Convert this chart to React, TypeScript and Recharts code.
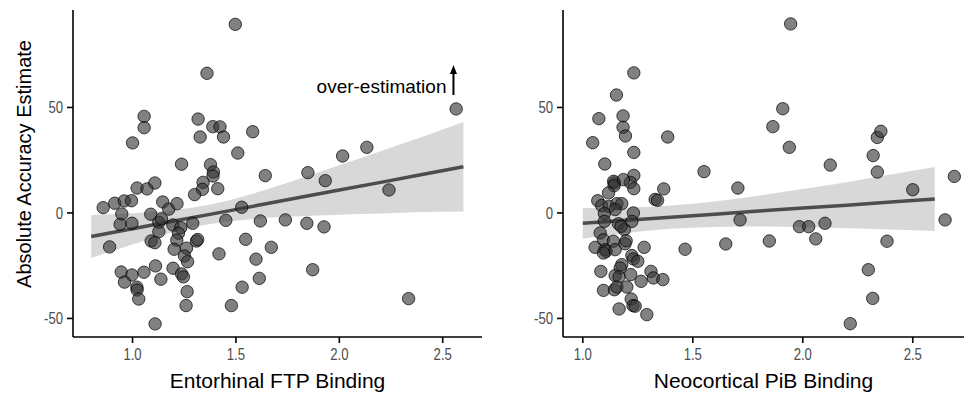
import React from 'react';
import {
  ComposedChart,
  Scatter,
  Line,
  Area,
  XAxis,
  YAxis,
  ReferenceDot,
} from 'recharts';

// Entorhinal FTP panel
const ftpX = [
  1.497, 1.36, 2.565, 1.056, 1.056, 1.0, 1.317, 1.327, 1.388, 1.423, 1.44, 1.581, 1.509, 1.237, 1.377,
  1.391, 1.389, 1.341, 1.338, 1.412, 1.3, 1.642, 1.848, 1.932, 2.016, 2.133, 2.24, 1.022, 1.07, 1.108,
  0.858, 0.914, 0.96, 0.995, 0.948, 0.94, 0.997, 0.889, 1.088, 1.127, 1.127, 1.146, 1.175, 1.215, 1.14,
  1.195, 1.233, 1.222, 1.214, 1.291, 1.309, 1.315, 1.09, 1.108, 1.201, 1.261, 1.251, 1.266, 1.451, 1.528,
  1.618, 1.739, 1.843, 1.926, 1.547, 1.671, 1.418, 1.597, 1.871, 1.613, 1.53, 1.478, 2.335, 0.945, 0.997,
  1.055, 0.961, 1.021, 1.022, 1.03, 1.111, 1.137, 1.196, 1.237, 1.246, 1.264, 1.259, 1.109,
];
const ftpY = [
  89.4, 66.2, 49.3, 45.8, 40.4, 33.2, 44.5, 36.0, 40.9, 40.8, 36.0, 38.5, 28.4, 23.1, 22.9,
  19.4, 17.5, 14.5, 11.2, 11.5, 8.7, 17.7, 19.1, 15.3, 27.0, 31.1, 10.9, 11.8, 11.4, 14.2,
  2.5, 4.6, 5.7, 5.8, -0.5, -5.4, -4.9, -16.1, -0.6, -4.4, -8.9, 5.2, 1.8, 4.4, -2.8,
  -5.7, -7.0, -9.6, -12.9, -4.9, -13.3, -12.6, -13.3, -14.1, -17.2, -16.7, -20.4, -23.1, -3.5, 2.7,
  -3.8, -3.3, -4.9, -6.6, -12.5, -16.3, -19.4, -21.9, -26.9, -31.0, -35.2, -43.9, -40.6, -28.0, -29.4,
  -28.1, -32.8, -35.2, -36.5, -40.8, -25.1, -31.4, -26.2, -28.9, -30.3, -37.3, -43.9, -52.6,
];
const ftpFitX = [0.8, 1.0, 1.2, 1.4, 1.6, 1.8, 2.0, 2.2, 2.4, 2.6];
const ftpFit = [-11.2, -7.5, -3.8, -0.2, 3.5, 7.2, 10.9, 14.5, 18.2, 21.9];
const ftpLo = [-21.4, -14.9, -9.0, -4.9, -2.7, -1.6, -0.8, -0.3, 0.4, 0.7];
const ftpHi = [-1.0, -0.1, 1.4, 4.5, 9.7, 16.0, 22.6, 29.3, 36.0, 43.1];

// Neocortical PiB panel
const pibX = [
  1.945, 1.232, 1.153, 1.073, 1.183, 1.183, 1.194, 1.045, 1.386, 1.232, 1.1, 1.232, 1.216, 1.232, 1.144,
  1.14, 1.142, 1.185, 1.117, 1.368, 1.551, 1.705, 1.909, 1.864, 1.939, 2.125, 2.32, 2.339, 2.355, 2.339,
  2.5, 2.689, 1.329, 1.34, 1.068, 1.086, 1.12, 1.155, 1.177, 1.147, 1.23, 1.098, 1.098, 1.223, 1.162,
  1.189, 1.174, 1.079, 1.094, 1.139, 1.192, 1.197, 1.056, 1.101, 1.106, 1.094, 1.147, 1.279, 1.465, 1.65,
  1.848, 2.059, 2.383, 1.715, 1.985, 2.027, 2.101, 2.647, 1.223, 1.23, 1.25, 1.082, 1.177, 1.17, 1.147,
  1.165, 1.218, 1.265, 1.31, 1.321, 1.364, 1.094, 1.144, 1.155, 1.2, 1.22, 1.228, 1.238, 1.165, 1.291,
  2.298, 2.318, 2.216,
];
const pibY = [
  89.6, 66.4, 55.9, 44.7, 46.0, 40.6, 36.5, 33.3, 36.0, 28.7, 23.2, 17.8, 14.5, 11.5, 14.2,
  15.0, 12.9, 15.8, 9.5, 11.4, 19.6, 11.8, 49.4, 40.9, 31.1, 22.7, 27.2, 35.8, 38.7, 19.4,
  11.0, 17.3, 6.4, 6.0, 5.8, 3.5, 3.1, 4.4, 4.4, 1.6, 0.0, -0.3, -4.0, -4.0, -5.1,
  -7.9, -6.3, -9.5, -12.7, -13.4, -14.6, -13.2, -16.3, -17.4, -18.2, -19.0, -17.4, -16.3, -17.2, -14.7,
  -13.3, -12.3, -13.4, -3.3, -6.5, -6.5, -4.9, -3.3, -20.2, -21.8, -22.9, -27.7, -24.5, -26.1, -29.7,
  -30.3, -29.2, -32.4, -27.7, -30.8, -31.6, -36.7, -36.4, -35.1, -35.1, -40.8, -43.9, -44.2, -45.5, -48.2,
  -26.9, -40.5, -52.5,
];
const pibFitX = [1.0, 1.2, 1.4, 1.6, 1.8, 2.0, 2.2, 2.4, 2.6];
const pibFit = [-4.9, -3.5, -2.0, -0.6, 0.9, 2.3, 3.7, 5.2, 6.6];
const pibLo = [-12.2, -9.5, -7.5, -6.6, -6.4, -6.7, -7.2, -7.8, -8.5];
const pibHi = [2.4, 2.5, 3.5, 5.4, 8.2, 11.3, 14.6, 18.2, 21.8];

const xTicks = [1, 1.5, 2, 2.5];
const yTicks = [-50, 0, 50];

const TITLE_FONT = "'Liberation Sans', Arial, sans-serif";

// tick labels in the original are set in a condensed face
const XTick = (props: any) => {
  const { x, y, payload } = props;
  return (
    <g transform={`translate(${x},${y})`}>
      <text
        transform="scale(0.82,1)"
        textAnchor="middle"
        dy="0.71em"
        fontSize={16}
        fontFamily={TITLE_FONT}
        fill="#4d4d4d"
      >
        {Number(payload.value).toFixed(1)}
      </text>
    </g>
  );
};

const YTick = (props: any) => {
  const { x, y, payload } = props;
  return (
    <g transform={`translate(${x},${y})`}>
      <text
        transform="scale(0.82,1)"
        textAnchor="end"
        dy="0.36em"
        fontSize={16}
        fontFamily={TITLE_FONT}
        fill="#4d4d4d"
      >
        {payload.value}
      </text>
    </g>
  );
};

const Dot = (props: any) => {
  const { cx, cy } = props;
  if (cx == null || cy == null) return null;
  return (
    <circle
      cx={cx}
      cy={cy}
      r={6.2}
      fill="#333"
      fillOpacity={0.62}
      stroke="#000"
      strokeOpacity={0.7}
      strokeWidth={1}
    />
  );
};

const OverEstimation = (props: any) => {
  const { cx, cy } = props;
  return (
    <g>
      <line x1={cx} y1={cy} x2={cx} y2={cy - 23} stroke="#000" strokeWidth={2} />
      <polygon points={`${cx},${cy - 30} ${cx - 3.5},${cy - 21} ${cx + 3.5},${cy - 21}`} fill="#000" />
      <text x={cx - 7} y={cy - 2} textAnchor="end" fontSize={19} fontFamily={TITLE_FONT} fill="#000">
        over-estimation
      </text>
    </g>
  );
};

interface PanelProps {
  xs: number[];
  ys: number[];
  fitX: number[];
  fit: number[];
  lo: number[];
  hi: number[];
  xDomain: [number, number];
  width: number;
  marginRight: number;
  xLabel: string;
  showYLabel?: boolean;
  children?: React.ReactNode;
}

const Panel = ({ xs, ys, fitX, fit, lo, hi, xDomain, width, marginRight, xLabel, showYLabel, children }: PanelProps) => {
  const points = xs.map((x, i) => ({ x, y: ys[i] }));
  const band = fitX.map((x, i) => ({ x, band: [lo[i], hi[i]], fit: fit[i] }));

  return (
    <ComposedChart
      width={width}
      height={394}
      data={band}
      margin={{ top: 10, right: marginRight, bottom: 0, left: 0 }}
    >
      <XAxis
        type="number"
        dataKey="x"
        domain={xDomain}
        allowDataOverflow
        ticks={xTicks}
        height={57}
        tickSize={6}
        tickMargin={6}
        axisLine={{ stroke: '#000', strokeWidth: 1.6 }}
        tickLine={{ stroke: '#000', strokeWidth: 1.6 }}
        tick={<XTick />}
        label={{
          value: xLabel,
          position: 'insideBottom',
          offset: 6,
          style: { fontSize: 21, fontFamily: TITLE_FONT, fill: '#000' },
        }}
      />
      <YAxis
        type="number"
        dataKey="y"
        domain={[-58.8, 96.2]}
        allowDataOverflow
        ticks={yTicks}
        width={73}
        tickSize={6}
        tickMargin={4}
        axisLine={{ stroke: '#000', strokeWidth: 1.6 }}
        tickLine={{ stroke: '#000', strokeWidth: 1.6 }}
        tick={<YTick />}
        label={
          showYLabel
            ? {
                content: () => (
                  <text
                    x={0}
                    y={0}
                    transform="translate(24,164) rotate(-90)"
                    textAnchor="middle"
                    dominantBaseline="central"
                    fontSize={20}
                    fontFamily={TITLE_FONT}
                    fill="#000"
                  >
                    Absolute Accuracy Estimate
                  </text>
                ),
              }
            : undefined
        }
      />
      <Area
        dataKey="band"
        type="monotone"
        stroke="none"
        fill="#999"
        fillOpacity={0.38}
        isAnimationActive={false}
      />
      <Line
        dataKey="fit"
        type="linear"
        stroke="#4d4d4d"
        strokeWidth={3.5}
        dot={false}
        isAnimationActive={false}
      />
      <Scatter data={points} dataKey="y" shape={Dot} isAnimationActive={false} />
      {children}
    </ComposedChart>
  );
};

export default function App() {
  return (
    <div style={{ position: 'absolute', left: 0, top: 0, width: 964, height: 394, background: '#fff' }}>
      <div style={{ position: 'absolute', left: 0, top: 0 }}>
        <Panel
          xs={ftpX}
          ys={ftpY}
          fitX={ftpFitX}
          fit={ftpFit}
          lo={ftpLo}
          hi={ftpHi}
          xDomain={[0.712, 2.69]}
          width={520}
          marginRight={38}
          xLabel="Entorhinal FTP Binding"
          showYLabel
        >
          <ReferenceDot x={2.552} y={55.9} r={0} ifOverflow="visible" shape={OverEstimation} />
        </Panel>
      </div>
      <div style={{ position: 'absolute', left: 490, top: 0 }}>
        <Panel
          xs={pibX}
          ys={pibY}
          fitX={pibFitX}
          fit={pibFit}
          lo={pibLo}
          hi={pibHi}
          xDomain={[0.91, 2.733]}
          width={474}
          marginRight={0}
          xLabel="Neocortical PiB Binding"
        />
      </div>
    </div>
  );
}
